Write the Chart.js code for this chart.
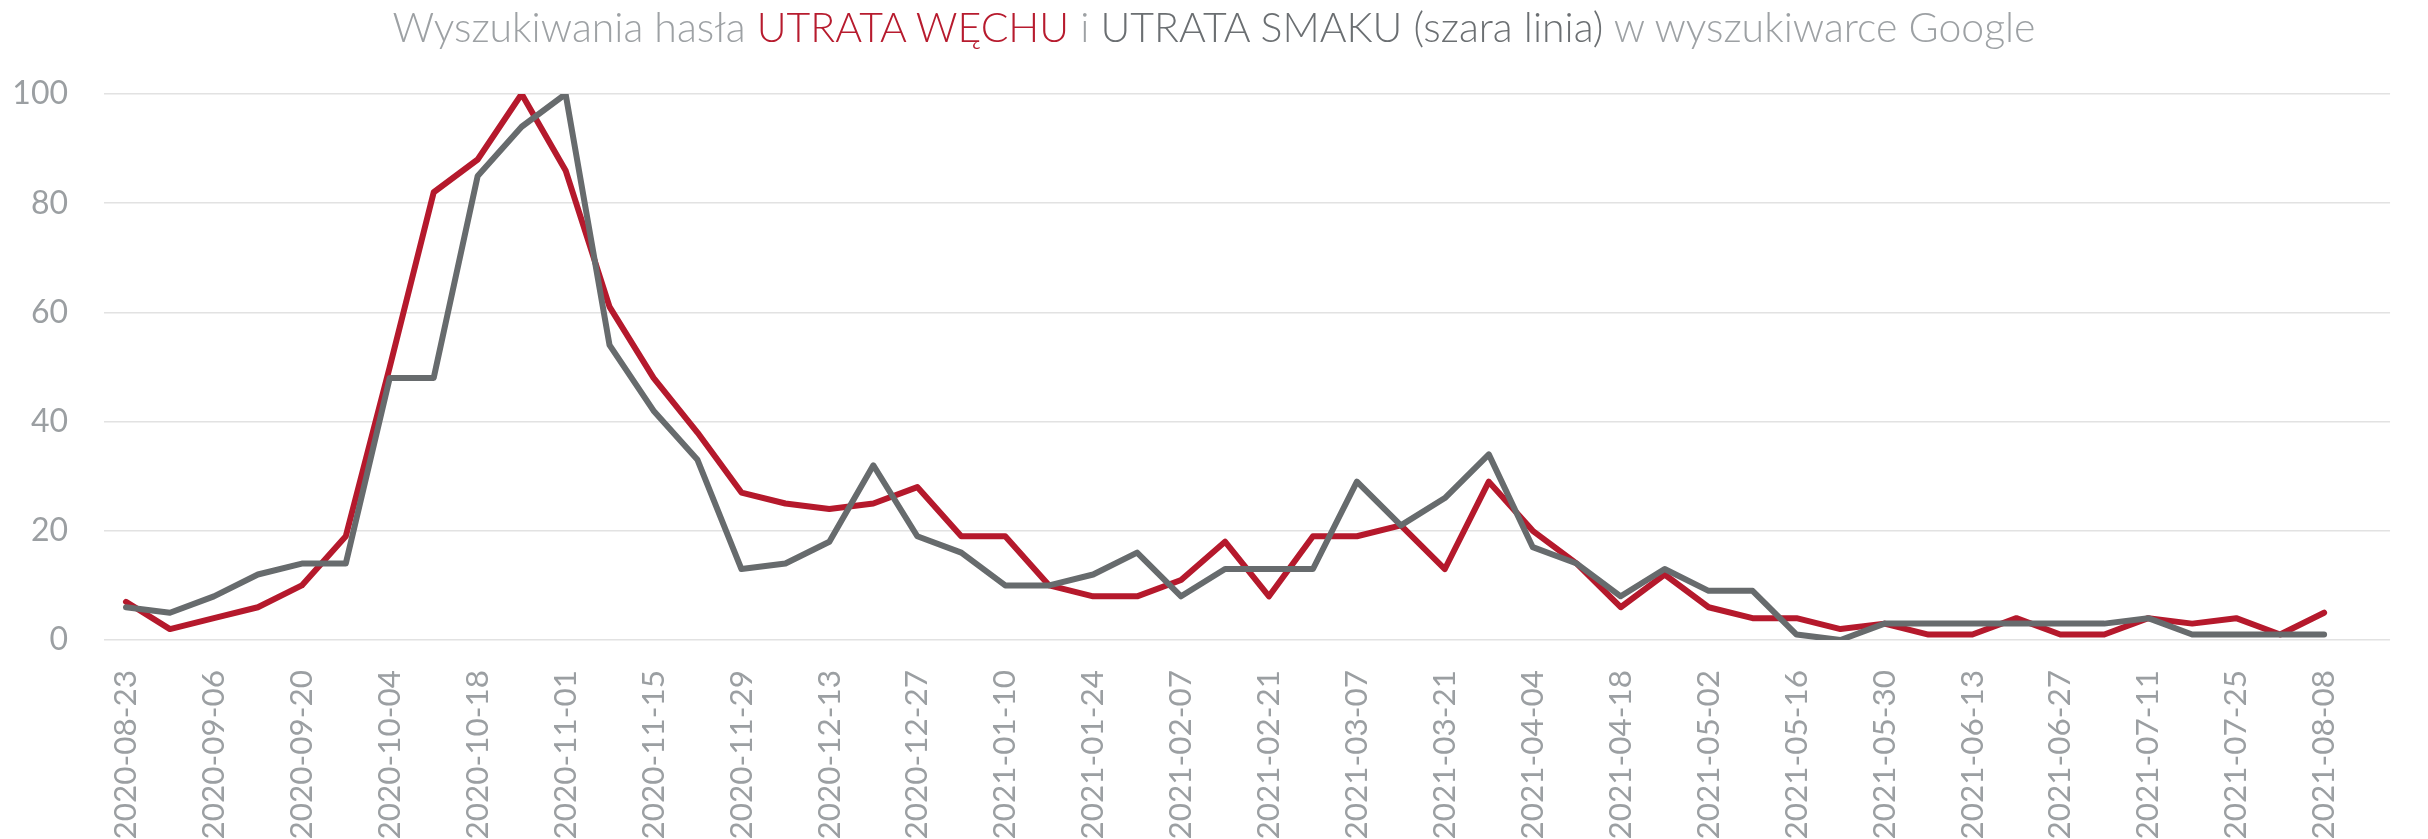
<!DOCTYPE html>
<html lang="pl">
<head>
<meta charset="utf-8">
<title>Utrata węchu i smaku - Google</title>
<script src="https://cdn.jsdelivr.net/npm/chart.js@4.4.1/dist/chart.umd.min.js"></script>
<style>
  html, body { margin: 0; padding: 0; background: #fff; }
  #wrap { position: relative; width: 2428px; height: 839px; }
  #title {
    position: absolute; left: 0; top: 6px; width: 2428px;
    text-align: center; font-family: Lato, "Open Sans", sans-serif;
    font-weight: 300; font-size: 41px; line-height: 1; color: #9DA1A4;
    white-space: nowrap;
  }
  #title .red { color: #B71B2E; }
  #title .dark { color: #6B6F72; }
  canvas { position: absolute; left: 0; top: 0; }
</style>
</head>
<body>
<div id="wrap">
  <canvas id="trendChart" width="2428" height="839"></canvas>
  <div id="title">Wyszukiwania hasła <span class="red">UTRATA WĘCHU</span> i <span class="dark">UTRATA SMAKU (szara linia)</span> w wyszukiwarce Google</div>
</div>

<script>
// =======================================================
// Dane (tygodnie, Google Trends)
// =======================================================

const weeks = [
  "2020-08-23","2020-08-30","2020-09-06","2020-09-13","2020-09-20","2020-09-27",
  "2020-10-04","2020-10-11","2020-10-18","2020-10-25","2020-11-01","2020-11-08",
  "2020-11-15","2020-11-22","2020-11-29","2020-12-06","2020-12-13","2020-12-20",
  "2020-12-27","2021-01-03","2021-01-10","2021-01-17","2021-01-24","2021-01-31",
  "2021-02-07","2021-02-14","2021-02-21","2021-02-28","2021-03-07","2021-03-14",
  "2021-03-21","2021-03-28","2021-04-04","2021-04-11","2021-04-18","2021-04-25",
  "2021-05-02","2021-05-09","2021-05-16","2021-05-23","2021-05-30","2021-06-06",
  "2021-06-13","2021-06-20","2021-06-27","2021-07-04","2021-07-11","2021-07-18",
  "2021-07-25","2021-08-01","2021-08-08","2021-08-15"
];

// UTRATA WĘCHU (czerwona linia)
const wech = [
  7,2,4,6,10,19,50,82,88,100,86,61,48,38,27,25,24,25,28,19,
  19,10,8,8,11,18,8,19,19,21,13,29,20,14,6,12,6,4,4,2,
  3,1,1,4,1,1,4,3,4,1,5,null
];

// UTRATA SMAKU (szara linia)
const smak = [
  6,5,8,12,14,14,48,48,85,94,100,54,42,33,13,14,18,32,19,16,
  10,10,12,16,8,13,13,13,29,21,26,34,17,14,8,13,9,9,1,0,
  3,3,3,3,3,3,4,1,1,1,1,null
];

const yTicks = [0,20,40,60,80,100];

// =======================================================
// Wykres
// =======================================================

const tickGray = "#9B9FA2";

new Chart(document.getElementById("trendChart"),{

    type:"line",

    data:{
        labels:weeks,
        datasets:[
            {
                label:"UTRATA SMAKU",
                data:smak,
                borderColor:"#676B6D",
                borderWidth:6,
                pointRadius:0,
                borderCapStyle:"round",
                borderJoinStyle:"round",
                order:0
            },
            {
                label:"UTRATA WĘCHU",
                data:wech,
                borderColor:"#B5192C",
                borderWidth:6,
                pointRadius:0,
                borderCapStyle:"round",
                borderJoinStyle:"round",
                order:1
            }
        ]
    },

    options:{
        responsive:false,
        animation:false,
        layout:{ padding:{ top:94, right:15, left:0, bottom:0 } },
        plugins:{
            legend:{display:false},
            title:{display:false},
            tooltip:{enabled:false}
        },
        scales:{
            x:{
                offset:true,
                grid:{display:false},
                border:{display:false},
                ticks:{
                    autoSkip:false,
                    maxRotation:90,
                    minRotation:90,
                    padding:22,
                    color:tickGray,
                    font:{family:"Lato", size:31.5},
                    callback:function(v,i){ return (i % 2 === 0 && i <= 50) ? weeks[i] : ""; }
                },
                afterFit:function(scale){ scale.height = 199; }
            },
            y:{
                min:0,
                max:100,
                afterBuildTicks:function(scale){ scale.ticks = yTicks.map(v=>({value:v})); },
                grid:{ color:"#E2E2E2", lineWidth:1.5, drawTicks:false },
                border:{display:false},
                ticks:{
                    padding:36,
                    color:tickGray,
                    font:{family:"Lato", size:32}
                },
                afterFit:function(scale){ scale.width = 104; }
            }
        }
    }

});
</script>
</body>
</html>
